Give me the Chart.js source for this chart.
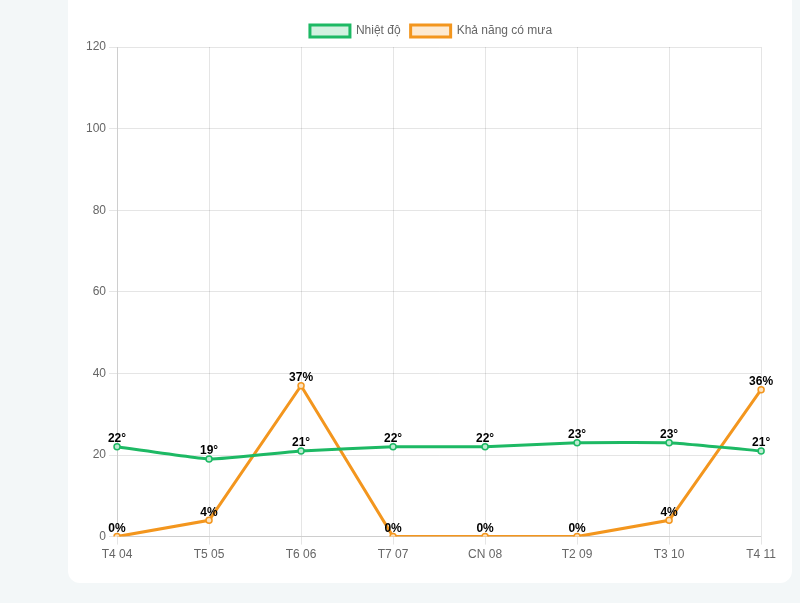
<!DOCTYPE html>
<html>
<head>
<meta charset="utf-8">
<script src="https://cdn.jsdelivr.net/npm/chart.js@4"></script>
<style>
    html, body { margin: 0; padding: 0; background: #f3f7f8; width: 800px; height: 603px; overflow: hidden; }
    .card { position: absolute; left: 68px; top: -20px; width: 724px; height: 603px; background: #fff; border-radius: 12px; }
    .chart-box { position: absolute; left: 83px; top: 15px; width: 696px; height: 550px; }
</style>
</head>
<body>
<div class="card"></div>
<div class="chart-box"><canvas id="weatherChart"></canvas></div>
<script>
var days = ['T4 04', 'T5 05', 'T6 06', 'T7 07', 'CN 08', 'T2 09', 'T3 10', 'T4 11'];
var temps = [22, 19, 21, 22, 22, 23, 23, 21];
var rainChance = [0, 4, 37, 0, 0, 0, 4, 36];

// nhãn số liệu trên từng điểm
var pointLabels = {
    id: 'pointLabels',
    afterDatasetsDraw: function (chart) {
        var ctx = chart.ctx;
        ctx.save();
        ctx.font = 'bold 12px Arial, "Liberation Sans", sans-serif';
        ctx.fillStyle = '#000';
        ctx.textAlign = 'center';
        ctx.textBaseline = 'bottom';
        chart.data.datasets.forEach(function (ds, i) {
            var meta = chart.getDatasetMeta(i);
            meta.data.forEach(function (pt, j) {
                ctx.fillText(ds.data[j] + ds.suffix, pt.x, pt.y - 2);
            });
        });
        ctx.restore();
    }
};

document.addEventListener('DOMContentLoaded', function () {
    Chart.defaults.font.family = 'Arial, "Liberation Sans", sans-serif';
    var ctx = document.getElementById('weatherChart');
    new Chart(ctx, {
        type: 'line',
        data: {
            labels: days,
            datasets: [
                {
                    label: 'Nhiệt độ',
                    data: temps,
                    suffix: '°',
                    borderColor: 'rgb(29, 185, 100)',
                    backgroundColor: 'rgba(29, 185, 100, 0.2)',
                    pointBackgroundColor: 'rgb(190, 236, 210)',
                    borderWidth: 3,
                    pointRadius: 3,
                    pointBorderWidth: 1.5,
                    tension: 0.1,
                    fill: false
                },
                {
                    label: 'Khả năng có mưa',
                    data: rainChance,
                    suffix: '%',
                    borderColor: 'rgb(243, 150, 30)',
                    backgroundColor: 'rgba(243, 150, 30, 0.2)',
                    pointBackgroundColor: 'rgb(252, 226, 190)',
                    borderWidth: 3,
                    pointRadius: 3,
                    pointBorderWidth: 1.5,
                    tension: 0,
                    fill: false
                }
            ]
        },
        options: {
            responsive: true,
            maintainAspectRatio: false,
            animation: false,
            plugins: {
                legend: {
                    labels: { color: '#666', font: { size: 12 } }
                },
                tooltip: { enabled: false }
            },
            scales: {
                y: {
                    min: 0,
                    max: 120,
                    ticks: { stepSize: 20, color: '#666' }
                },
                x: {
                    ticks: { color: '#666' }
                }
            }
        },
        plugins: [pointLabels]
    });
});
</script>
</body>
</html>
